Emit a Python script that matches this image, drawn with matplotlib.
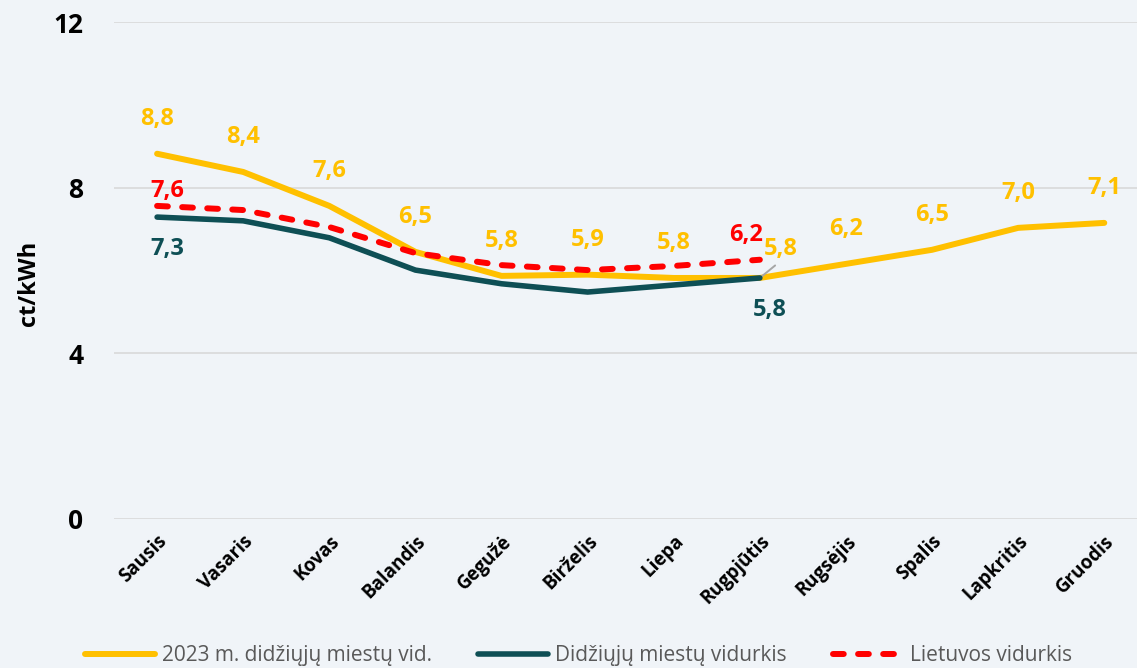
import matplotlib
matplotlib.use("Agg")
import matplotlib.pyplot as plt
import numpy as np

plt.rcParams['font.family'] = ['Open Sans', 'DejaVu Sans']

months = ["Sausis", "Vasaris", "Kovas", "Balandis", "Gegužė", "Birželis",
	"Liepa", "Rugpjūtis", "Rugsėjis", "Spalis", "Lapkritis", "Gruodis"]

avg2023 = [8.82, 8.38, 7.56, 6.45, 5.87, 5.90, 5.82, 5.82, 6.16, 6.50, 7.03, 7.15]
avg2023_lbl = ["8,8", "8,4", "7,6", "6,5", "5,8", "5,9", "5,8", "5,8", "6,2", "6,5", "7,0", "7,1"]

cities = [7.29, 7.20, 6.79, 6.01, 5.68, 5.48, 5.65, 5.82]
cities_lbl = {0: "7,3", 7: "5,8"}

lt = [7.56, 7.46, 7.05, 6.42, 6.13, 6.01, 6.11, 6.26]
lt_lbl = {0: "7,6", 7: "6,2"}

yticks = [0, 4, 8, 12]

YELLOW = "#FFC000"
TEAL = "#0E4F55"
RED = "#FF0000"
BG = "#F0F4F8"

def main():
	fig = plt.figure(figsize=(11.37, 6.68), dpi=100, facecolor=BG)
	ax = fig.add_axes([0.1003, 0.2231, 0.8997, 0.7439])
	ax.set_facecolor(BG)

	x = np.arange(len(months))
	ax.plot(x, avg2023, color=YELLOW, lw=4.3, solid_capstyle='round', zorder=3,
		label="2023 m. didžiųjų miestų vid.")
	ax.plot(x[:len(cities)], cities, color=TEAL, lw=4, solid_capstyle='round', zorder=4,
		label="Didžiųjų miestų vidurkis")
	ax.plot(x[:len(lt)], lt, color=RED, lw=4.3, ls=(0, (1.8, 2.4)), dash_capstyle='round',
		zorder=5, label="Lietuvos vidurkis")

	lblfont = dict(fontsize=17, fontweight='bold', ha='center', va='center')
	for i, (v, s) in enumerate(zip(avg2023, avg2023_lbl)):
		if i == 7:
			ax.annotate(s, (i, v), xytext=(15, 21), textcoords='offset points',
				color=YELLOW, **lblfont)
			# leader line
			ax.annotate("", (i, v), xytext=(11, 9), textcoords='offset points',
				arrowprops=dict(arrowstyle='-', color='#A6A6A6', lw=1.4,
					shrinkA=0, shrinkB=0))
		else:
			ax.annotate(s, (i, v), xytext=(0, 25), textcoords='offset points',
				color=YELLOW, **lblfont)
	for i, s in cities_lbl.items():
		ax.annotate(s, (i, cities[i]), xytext=(7, -23),
			textcoords='offset points', color=TEAL, **lblfont)
	for i, s in lt_lbl.items():
		ax.annotate(s, (i, lt[i]), xytext=(-10 if i == 7 else 7, 18 if i == 7 else 11),
			textcoords='offset points', color=RED, **lblfont)

	ax.set_xlim(-0.5, 11.38)
	ax.set_ylim(0, 12)
	ax.set_yticks(yticks)
	ax.set_yticklabels([str(t) for t in yticks], fontsize=19, fontweight='bold')
	ax.set_xticks(x)
	ax.set_xticklabels(months, rotation=45, ha='right', rotation_mode='anchor',
		fontsize=13.5, fontweight='bold')
	ax.tick_params(axis='both', length=0)
	ax.tick_params(axis='y', pad=22)
	ax.tick_params(axis='x', pad=9)
	ax.grid(axis='y', color='#D9D9D9', lw=1.2)
	ax.set_axisbelow(True)
	for sp in ax.spines.values():
		sp.set_visible(False)

	ax.set_ylabel("ct/kWh", fontsize=17, fontweight='bold')
	ax.yaxis.set_label_coords(-0.071, 0.475)

	leg = fig.legend(loc='center', bbox_to_anchor=(0.509, 0.019), ncol=3,
		frameon=False, fontsize=15, handlelength=3.35, handletextpad=0.35,
		columnspacing=2.2)
	for t in leg.get_texts():
		t.set_color('#595959')

	fig.savefig("out.png", dpi=100, facecolor=BG)

main()
